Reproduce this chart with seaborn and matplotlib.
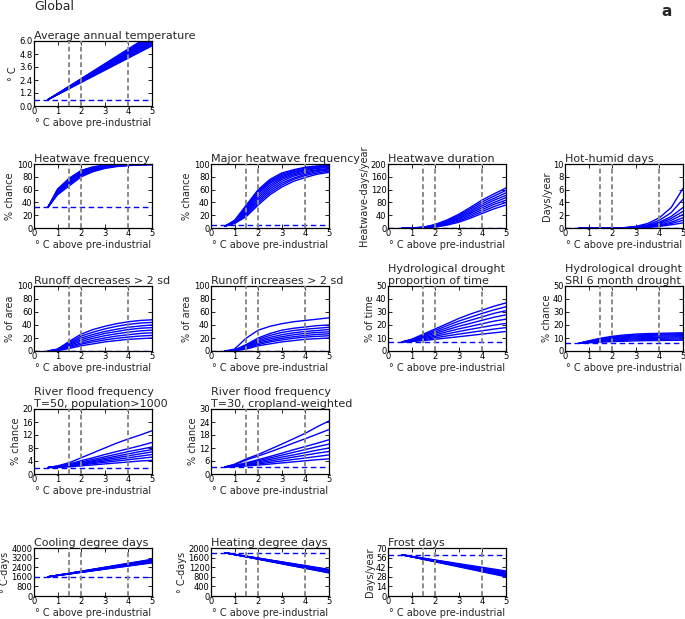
import pandas as pd
import seaborn as sns
import matplotlib
matplotlib.use('Agg')
import matplotlib.pyplot as plt

# warming levels (deg C above pre-industrial) where the curves were read
gmt = [0.6, 1.0, 1.5, 2.0, 2.5, 3.0, 3.5, 4.0, 4.5, 5.0]
gmt_ends = [0.6, 5.0]  # panels whose curves are straight lines

# straight-line panels: start value and the end value of each run at 5 C
temp_start = 0.6
temp_end = [5.55, 5.65, 5.75, 5.85, 5.95, 6.05, 6.15, 6.25, 6.35, 6.45, 6.55, 6.65]
cdd_start = 1600
cdd_end = [2760, 2790, 2820, 2850, 2880, 2910, 2940, 2970, 3000, 3030, 3060]
hdd_start = 1800
hdd_end = [960, 975, 990, 1005, 1020, 1035, 1050, 1065, 1080, 1095, 1110]
frost_start = 60
frost_end = [28, 29, 30, 31, 31.8, 32.5, 33.3, 34, 35, 36.5]

heatwave_freq = [
    [33, 52, 66, 80, 88, 93, 96, 97.5, 98.5, 99],
    [33, 53, 68, 82, 89, 94, 96.5, 98, 98.8, 99.2],
    [33, 54, 70, 83, 90, 94.5, 97, 98.3, 99, 99.4],
    [33, 55, 71, 84, 91, 95, 97.5, 98.6, 99.2, 99.5],
    [33, 56, 72, 85, 92, 96, 98, 99, 99.4, 99.6],
    [33, 57, 74, 86, 93, 96.5, 98.3, 99.1, 99.5, 99.7],
    [33, 58, 75, 87, 93.5, 97, 98.6, 99.3, 99.6, 99.8],
    [33, 59, 76, 88, 94, 97.5, 98.8, 99.4, 99.7, 99.8],
    [33, 60, 77, 89, 95, 98, 99, 99.5, 99.8, 99.9],
    [33, 61, 78, 90, 95.5, 98.3, 99.2, 99.6, 99.8, 99.9],
]
major_heatwave = [
    [3, 7, 18, 36, 52, 64, 73, 79, 84, 87],
    [3, 8, 20, 39, 55, 67, 76, 82, 86, 89],
    [3, 8, 22, 42, 58, 70, 78, 84, 88, 91],
    [3, 9, 24, 45, 61, 73, 81, 86, 90, 92],
    [3, 9, 26, 48, 64, 76, 83, 88, 91, 93],
    [3, 10, 28, 51, 67, 78, 85, 90, 93, 95],
    [3, 10, 30, 54, 70, 80, 87, 91, 94, 96],
    [3, 11, 32, 56, 72, 82, 88, 92, 95, 97],
    [3, 11, 34, 58, 74, 84, 90, 94, 96, 97.5],
    [3, 12, 36, 60, 76, 86, 91, 95, 97, 98],
]
heatwave_dur = [
    [0, 0, 0.5, 3, 9, 18, 31, 46, 60, 72],
    [0, 0, 0.8, 4, 11, 22, 36, 52, 67, 80],
    [0, 0.1, 1.1, 5, 14, 25, 41, 58, 74, 87],
    [0, 0.1, 1.4, 6.5, 16, 29, 46, 64, 80, 95],
    [0, 0.2, 1.6, 7.5, 18, 32, 50, 70, 87, 102],
    [0, 0.2, 1.9, 8.7, 20, 36, 55, 76, 93, 110],
    [0, 0.3, 2.2, 10, 23, 39, 60, 82, 100, 118],
    [0, 0.3, 2.5, 11, 25, 43, 65, 88, 107, 125],
]
hot_humid = [
    [0, 0, 0, 0, 0, 0.02, 0.08, 0.25, 0.5, 0.8],
    [0, 0, 0, 0, 0.01, 0.04, 0.12, 0.35, 0.7, 1.2],
    [0, 0, 0, 0, 0.01, 0.05, 0.18, 0.45, 0.9, 1.6],
    [0, 0, 0, 0, 0.02, 0.08, 0.22, 0.6, 1.2, 2.1],
    [0, 0, 0, 0, 0.02, 0.1, 0.3, 0.75, 1.5, 2.6],
    [0, 0, 0, 0, 0.03, 0.13, 0.38, 0.9, 1.8, 3.2],
    [0, 0, 0, 0, 0.04, 0.18, 0.5, 1.2, 2.4, 4.5],
    [0, 0, 0, 0, 0.05, 0.25, 0.7, 1.6, 3.2, 6.2],
]
runoff_dec = [
    [0, 0.5, 4, 8, 11, 14, 16, 18, 19, 20],
    [0, 0.8, 5.5, 10.5, 14, 17, 19.5, 21.5, 23, 24],
    [0, 1.2, 7, 12.5, 16.5, 20, 23, 25, 27, 28],
    [0, 1.5, 8.5, 15, 19.5, 23.5, 26.5, 29, 31, 32],
    [0, 1.8, 10, 17.5, 22.5, 27, 30, 33, 35, 36],
    [0, 2.2, 11.5, 20, 25.5, 30, 33.5, 36.5, 38.5, 40],
    [0, 2.6, 13, 23, 29, 34, 38, 41, 43, 44],
    [0, 3, 15, 26, 33, 38, 42, 45, 47, 48],
]
runoff_inc = [
    [0, 0.3, 3, 8, 11, 14, 16, 18, 19, 20],
    [0, 0.5, 4.5, 10, 14, 17, 19.5, 21.5, 22.5, 23.5],
    [0, 0.7, 5.5, 12, 16, 19.5, 22, 24, 25.5, 26.5],
    [0, 0.9, 6.5, 14, 18.5, 22, 25, 27, 28.5, 29.5],
    [0, 1.1, 7.5, 16, 21, 25, 28, 30, 31.5, 33],
    [0, 1.3, 9, 18, 24, 28.5, 31.5, 33.5, 35, 36.5],
    [0, 1.5, 10, 20, 27, 32, 35, 37, 39, 40],
    [0, 3, 20, 32, 38, 42, 45, 47, 49, 51],
]
hydro_time = [
    [7, 7.3, 8, 9, 10, 11, 12, 13, 14, 15],
    [7, 7.5, 8.7, 10.2, 11.6, 13, 14.3, 15.6, 16.9, 18],
    [7, 7.8, 9.4, 11.3, 13.2, 15, 16.7, 18.3, 19.9, 21.2],
    [7, 8, 10, 12.4, 14.8, 17, 19, 21, 23, 24.5],
    [7, 8.2, 10.8, 13.6, 16.3, 19, 21.3, 23.7, 26, 27.8],
    [7, 8.5, 11.5, 14.7, 17.8, 21, 23.7, 26.3, 29, 31],
    [7, 8.8, 12.2, 15.8, 19.5, 23, 26, 29, 31.7, 34],
    [7, 9, 13, 17, 21, 25, 28.5, 31.5, 34.5, 37],
]
hydro_sri = [
    [6, 6.3, 6.8, 7.2, 7.5, 7.8, 8, 8.1, 8.2, 8.3],
    [6, 6.5, 7.2, 7.8, 8.2, 8.6, 8.8, 9, 9.1, 9.2],
    [6, 6.7, 7.6, 8.4, 8.9, 9.4, 9.6, 9.8, 10, 10.1],
    [6, 6.9, 8, 9, 9.6, 10.1, 10.4, 10.6, 10.8, 11],
    [6, 7.1, 8.4, 9.5, 10.3, 10.9, 11.2, 11.5, 11.6, 11.8],
    [6, 7.3, 8.9, 10.1, 11, 11.6, 12, 12.2, 12.4, 12.6],
    [6, 7.5, 9.3, 10.7, 11.6, 12.3, 12.7, 12.9, 13.1, 13.3],
    [6, 7.8, 9.8, 11.3, 12.3, 13, 13.4, 13.6, 13.8, 14],
]
flood_pop = [
    [2, 2, 2.2, 2.5, 2.8, 3.1, 3.4, 3.7, 4, 4.2],
    [2, 2.1, 2.4, 2.8, 3.2, 3.6, 4, 4.4, 4.8, 5.2],
    [2, 2.1, 2.5, 3, 3.5, 4, 4.5, 5, 5.5, 6],
    [2, 2.2, 2.6, 3.2, 3.8, 4.4, 5, 5.6, 6.2, 6.8],
    [2, 2.2, 2.7, 3.4, 4.1, 4.8, 5.5, 6.2, 6.9, 7.5],
    [2, 2.3, 2.9, 3.7, 4.5, 5.3, 6.1, 6.9, 7.6, 8.3],
    [2, 2.4, 3.1, 4.1, 5, 6, 6.9, 7.8, 8.7, 9.7],
    [2, 2.5, 3.5, 5, 6.5, 8, 9.5, 10.8, 12, 13.3],
]
flood_crop = [
    [3.3, 3.4, 3.7, 4.1, 4.6, 5.1, 5.6, 6.1, 6.6, 7],
    [3.3, 3.5, 4, 4.6, 5.3, 6, 6.7, 7.4, 8.1, 8.8],
    [3.3, 3.6, 4.3, 5.1, 6, 6.9, 7.8, 8.7, 9.6, 10.4],
    [3.3, 3.7, 4.6, 5.6, 6.7, 7.8, 8.8, 9.9, 11, 12],
    [3.3, 3.8, 4.9, 6.1, 7.4, 8.7, 10, 11.3, 12.6, 13.8],
    [3.3, 3.9, 5.2, 6.6, 8.1, 9.6, 11.2, 12.7, 14.2, 15.8],
    [3.3, 4.3, 6.5, 8.3, 10.2, 12.2, 14.3, 16.3, 18.4, 20.5],
    [3.3, 4.5, 7, 9, 11.4, 13.8, 16.3, 18.8, 21.8, 24.5],
]

# pre-industrial baseline of each indicator (blue dashed line)
baselines = {'temp': 0.6, 'hwf': 33, 'mhw': 4, 'hwd': 0, 'hh': 0, 'rdec': 0,
             'rinc': 0, 'hdt': 7, 'sri': 6, 'fpop': 2, 'fcrop': 3.2,
             'cdd': 1600, 'hdd': 1800, 'frost': 59.5}
# warming levels marked in grey
marks = [1.5, 2, 4]

# y tick values
yt_temp = [0.0, 1.2, 2.4, 3.6, 4.8, 6.0]
yt_pct = [0, 20, 40, 60, 80, 100]
yt_hwd = [0, 40, 80, 120, 160, 200]
yt_hh = [0, 2, 4, 6, 8, 10]
yt_50 = [0, 10, 20, 30, 40, 50]
yt_fpop = [0, 4, 8, 12, 16, 20]
yt_fcrop = [0, 6, 12, 18, 24, 30]
yt_cdd = [0, 800, 1600, 2400, 3200, 4000]
yt_hdd = [0, 400, 800, 1200, 1600, 2000]
yt_frost = [0, 14, 28, 42, 56, 70]

sns.set_style('ticks')
plt.rcParams['font.family'] = ['DejaVu Sans']

W, H = 685, 619
fig = plt.figure(figsize=(W / 100, H / 100), dpi=100)

col_px = [34, 211, 388, 565]
row_px = [(41, 106), (164, 228), (286, 351), (409, 474), (548, 596)]
deg = '\u00b0'


def panel(row, col, key, title, ylabel, xs, lines, yticks, fmt='{:g}'):
    top, bot = row_px[row]
    ax = fig.add_axes([col_px[col] / W, 1 - bot / H, 118 / W, (bot - top) / H])
    recs = [(i, x, y) for i, ys in enumerate(lines) for x, y in zip(xs, ys)]
    df = pd.DataFrame(recs, columns=['run', 'gmt', 'val'])
    sns.lineplot(data=df, x='gmt', y='val', units='run', estimator=None,
                 color='#0000ff', lw=1.0, ax=ax, legend=False)
    ax.axhline(baselines[key], color='#0000ff', ls=(0, (4, 2.5)), lw=1)
    for g in marks:
        ax.axvline(g, color='#8a8a8a', ls=(0, (2.5, 1.5)), lw=1.4, zorder=5)
    ax.set_xlim(0, 5)
    ax.set_ylim(yticks[0], yticks[-1])
    ax.set_xticks(range(6))
    ax.set_yticks(yticks)
    ax.set_yticklabels([fmt.format(t) for t in yticks])
    ax.tick_params(direction='in', top=True, right=True, length=3, width=0.6,
                   labelsize=6, pad=1, colors='black')
    for s in ax.spines.values():
        s.set_color('black')
        s.set_linewidth(0.9)
    ax.set_title(title, loc='left', fontsize=8, pad=1.5)
    ax.set_xlabel(deg + ' C above pre-industrial', fontsize=7, labelpad=1)
    ax.set_ylabel(ylabel, fontsize=7, labelpad=1)
    return ax


def straight(start, ends):
    return [[start, e] for e in ends]


panel(0, 0, 'temp', 'Average annual temperature', deg + ' C', gmt_ends,
      straight(temp_start, temp_end), yt_temp, '{:.1f}')
panel(1, 0, 'hwf', 'Heatwave frequency', '% chance', gmt, heatwave_freq, yt_pct)
panel(1, 1, 'mhw', 'Major heatwave frequency', '% chance', gmt, major_heatwave, yt_pct)
panel(1, 2, 'hwd', 'Heatwave duration', 'Heatwave-days/year', gmt, heatwave_dur, yt_hwd)
panel(1, 3, 'hh', 'Hot-humid days', 'Days/year', gmt, hot_humid, yt_hh)
panel(2, 0, 'rdec', 'Runoff decreases > 2 sd', '% of area', gmt, runoff_dec, yt_pct)
panel(2, 1, 'rinc', 'Runoff increases > 2 sd', '% of area', gmt, runoff_inc, yt_pct)
panel(2, 2, 'hdt', 'Hydrological drought\nproportion of time', '% of time', gmt, hydro_time, yt_50)
panel(2, 3, 'sri', 'Hydrological drought\nSRI 6 month drought', '% chance', gmt, hydro_sri, yt_50)
panel(3, 0, 'fpop', 'River flood frequency\nT=50, population>1000', '% chance', gmt, flood_pop, yt_fpop)
panel(3, 1, 'fcrop', 'River flood frequency\nT=30, cropland-weighted', '% chance', gmt, flood_crop, yt_fcrop)
panel(4, 0, 'cdd', 'Cooling degree days', deg + ' C-days', gmt_ends,
      straight(cdd_start, cdd_end), yt_cdd)
panel(4, 1, 'hdd', 'Heating degree days', deg + ' C-days', gmt_ends,
      straight(hdd_start, hdd_end), yt_hdd)
panel(4, 2, 'frost', 'Frost days', 'Days/year', gmt_ends,
      straight(frost_start, frost_end), yt_frost)

fig.text(34 / W, 1 - 0 / H, 'Global', fontsize=9, ha='left', va='top')
fig.text(672 / W, 1 - 4 / H, 'a', fontsize=11, fontweight='bold', ha='right', va='top')

fig.savefig('out.png', dpi=100)
